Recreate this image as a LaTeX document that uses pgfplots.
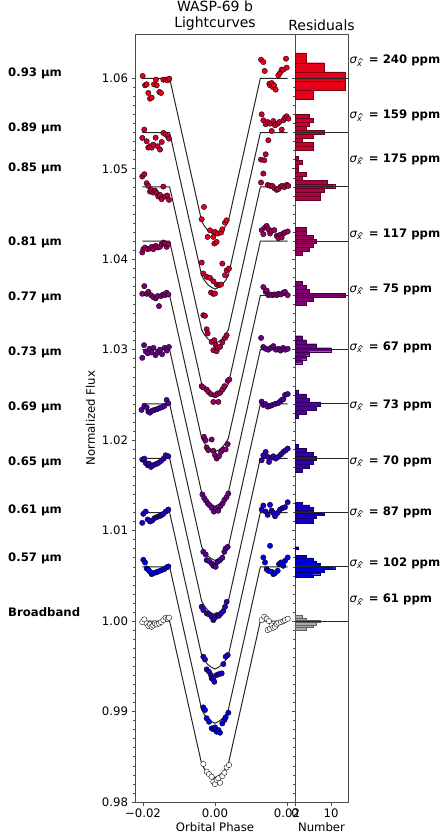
\documentclass[border=0pt]{standalone}
\usepackage{fontspec}
\setmainfont{DejaVu Sans}
\usepackage{pgfplots}
\pgfplotsset{compat=1.18}
\definecolor{c57}{RGB}{0,0,220}
\definecolor{c61}{RGB}{26,0,198}
\definecolor{c65}{RGB}{51,0,177}
\definecolor{c69}{RGB}{77,0,155}
\definecolor{c73}{RGB}{102,0,133}
\definecolor{c77}{RGB}{128,0,112}
\definecolor{c81}{RGB}{153,0,90}
\definecolor{c85}{RGB}{179,0,68}
\definecolor{c89}{RGB}{204,0,47}
\definecolor{c93}{RGB}{230,0,25}
\definecolor{cbb}{RGB}{170,170,170}
\newcommand{\fs}{\fontsize{11.7bp}{13bp}\selectfont}
\newcommand{\sig}{{\itshape σ}\raisebox{-0.45ex}{\fontsize{8bp}{9bp}\selectfont\itshape x\kern-0.52em\raisebox{0.35ex}{\^{}}\kern0.1em}}
\pgfplotsset{
  pts/.style={only marks, mark=*, mark size=2.7bp, mark options={fill=#1, draw=black, line width=0.35bp}},
  hist/.style={xbar interval, fill=#1, draw=#1!55!black, line width=0.3bp},
  mline/.style={black!85, line width=1bp},
  common/.style={scale only axis, height=768bp, ymin=0.98, ymax=1.0649,
    ytick={0.98,0.99,1.00,1.01,1.02,1.03,1.04,1.05,1.06},
    minor y tick num=9, tick align=outside, xtick pos=bottom, ytick pos=left,
    major tick length=3.5bp, minor tick length=2bp,
    tick style={black!70, line width=0.6bp},
    axis line style={black!70, line width=0.8bp},
    tick label style={font=\fs}, label style={font=\fs},
    xlabel style={yshift=2.5bp},
    scaled x ticks=false, scaled y ticks=false,
    title style={font=\fontsize{14bp}{15.5bp}\selectfont, align=center, at={(0.5,1)}, anchor=south, yshift=-4bp, inner sep=1.5bp},
    /pgf/number format/assume math mode=true, clip=false}
}
\newcommand{\modelcurve}[6]{\addplot[mline] coordinates {(-0.0202,#1) (-0.0126,#1) (-0.0037,#2) (-0.0030,#3) (-0.0020,#4) (-0.0010,#5) (0,#6) (0.0010,#5) (0.0020,#4) (0.0030,#3) (0.0037,#2) (0.0126,#1) (0.0202,#1)};}
\begin{document}
\begin{tikzpicture}
\path[use as bounding box] (0,0) rectangle (440bp,-835bp);
\begin{axis}[common, at={(135bp,-802bp)}, anchor=south west, width=160bp,
  xmin=-0.02222, xmax=0.02222, xtick={-0.02,0,0.02}, xticklabels={−0.02,0.00,0.02},
  yticklabels={0.98,0.99,1.00,1.01,1.02,1.03,1.04,1.05,1.06},
  xlabel={Orbital Phase}, ylabel={Normalized Flux}, title={WASP-69 b\\Lightcurves}]
\modelcurve{1.060}{1.0442}{1.0437}{1.0432}{1.0429}{1.0427}
\modelcurve{1.054}{1.0382}{1.0377}{1.0372}{1.0369}{1.0367}
\modelcurve{1.048}{1.0322}{1.0317}{1.0312}{1.0309}{1.0307}
\modelcurve{1.042}{1.0262}{1.0257}{1.0252}{1.0249}{1.0247}
\modelcurve{1.036}{1.0202}{1.0197}{1.0192}{1.0189}{1.0187}
\modelcurve{1.030}{1.0142}{1.0137}{1.0132}{1.0129}{1.0127}
\modelcurve{1.024}{1.0082}{1.0077}{1.0072}{1.0069}{1.0067}
\modelcurve{1.018}{1.0022}{1.0017}{1.0012}{1.0009}{1.0007}
\modelcurve{1.012}{0.9962}{0.9957}{0.9952}{0.9949}{0.9947}
\modelcurve{1.006}{0.9902}{0.9897}{0.9892}{0.9889}{0.9887}
\modelcurve{1.000}{0.9842}{0.9837}{0.9832}{0.9829}{0.9827}
% 0.93
\addplot[pts=c93] coordinates {(-0.02009,1.06026) (-0.01944,1.05923) (-0.01898,1.05934) (-0.01852,1.05838) (-0.01806,1.05775) (-0.01759,1.05786) (-0.01694,1.05934) (-0.01639,1.05985) (-0.0162,1.05923) (-0.01546,1.05849) (-0.015,1.05838) (-0.01435,1.05985) (-0.01361,1.05985) (-0.01315,1.05978) (-0.01269,1.05996)
(-0.0037,1.04442) (-0.00306,1.04578) (-0.00204,1.04247) (-0.00139,1.0432) (-0.00046,1.04247) (-0.00019,1.04173) (0,1.04302) (0.00046,1.04191) (0.00074,1.04284) (0.00167,1.04295) (0.00204,1.04331) (0.00278,1.04405) (0.00324,1.04431)
(0.01278,1.06206) (0.01343,1.0618) (0.0138,1.06081) (0.0151,1.05941) (0.01528,1.05923) (0.01574,1.05948) (0.01602,1.05904) (0.01639,1.05923) (0.01685,1.05875) (0.01759,1.06033) (0.01806,1.06059) (0.01852,1.06096) (0.01898,1.06096) (0.01972,1.06217) (0.01991,1.06118)};
% 0.89
\addplot[pts=c89] coordinates {(-0.02019,1.05341) (-0.01963,1.05433) (-0.01898,1.05304) (-0.01852,1.05234) (-0.01806,1.05249) (-0.01759,1.05234) (-0.01713,1.05267) (-0.01648,1.05344) (-0.01593,1.05249) (-0.01528,1.05212) (-0.01481,1.05296) (-0.01435,1.05396) (-0.0137,1.05381) (-0.01315,1.05359) (-0.01278,1.05333)
(-0.0037,1.03963) (-0.00324,1.03842) (-0.00231,1.03805) (-0.00139,1.03794) (-0.00111,1.03632) (-0.00046,1.03757) (-0.00046,1.03617) (0,1.03621) (0.00046,1.0372) (0.00111,1.03713) (0.00167,1.0372) (0.00204,1.03952) (0.00278,1.03823) (0.00324,1.03878) (0.00389,1.03897)
(0.01296,1.05602) (0.01343,1.05536) (0.01407,1.05492) (0.01463,1.05517) (0.01481,1.05315) (0.01528,1.05499) (0.01574,1.05418) (0.0162,1.05528) (0.01667,1.05481) (0.01741,1.05499) (0.01787,1.05517) (0.01852,1.05433) (0.01898,1.05536) (0.01944,1.05565) (0.01991,1.0558) (0.02037,1.05554)};
% 0.85
\addplot[pts=c85] coordinates {(-0.0202,1.04914) (-0.01963,1.0494) (-0.01898,1.04841) (-0.01852,1.04811) (-0.01806,1.04748) (-0.01778,1.04767) (-0.01713,1.04737) (-0.01667,1.04759) (-0.0162,1.0473) (-0.01574,1.04693) (-0.01528,1.04712) (-0.01481,1.04664) (-0.01435,1.04803) (-0.01389,1.04693) (-0.01324,1.04704) (-0.01278,1.04656)
(-0.00324,1.03381) (-0.00278,1.03374) (-0.00231,1.03226) (-0.00204,1.03179) (-0.00093,1.03086) (-0.00046,1.02994) (-0.00019,1.03105) (0.00019,1.0305) (0.00046,1.02983) (0.00074,1.0302) (0.00139,1.03031) (0.00204,1.0308) (0.00278,1.0313) (0.00324,1.0316)
(0.01278,1.04848) (0.01278,1.05101) (0.0137,1.05094) (0.01407,1.0516) (0.01343,1.04947) (0.01463,1.04822) (0.01528,1.04811) (0.01593,1.04811) (0.01648,1.04786) (0.01713,1.04767) (0.01759,1.04775) (0.01824,1.04803) (0.0187,1.04811) (0.01926,1.04797) (0.01991,1.04822) (0.02037,1.04811)};
% 0.81
\addplot[pts=c81] coordinates {(-0.0202,1.04075) (-0.01991,1.04112) (-0.01944,1.0413) (-0.0187,1.04112) (-0.01806,1.04119) (-0.01759,1.04137) (-0.01713,1.04112) (-0.01648,1.04148) (-0.01593,1.0413) (-0.01528,1.04137) (-0.01481,1.04167) (-0.01435,1.04185) (-0.01389,1.04174) (-0.01343,1.04137) (-0.01296,1.04167)
(-0.0037,1.02597) (-0.00324,1.02582) (-0.00231,1.0256) (-0.00185,1.02534) (-0.00111,1.02508) (-0.00046,1.02423) (0,1.02497) (0.00074,1.02516) (0.00093,1.02423) (0.00139,1.02523) (0.00204,1.0256) (0.0026,1.02597) (0.00352,1.02655) (0.00398,1.02671)
(0.01296,1.04322) (0.01343,1.04277) (0.01389,1.04351) (0.01435,1.04369) (0.01481,1.04333) (0.01528,1.04285) (0.01574,1.04314) (0.01648,1.04322) (0.01713,1.04259) (0.01759,1.04233) (0.01806,1.0427) (0.01852,1.04241) (0.01898,1.04285) (0.01944,1.04296) (0.02019,1.04307)};
% 0.77
\addplot[pts=c77] coordinates {(-0.0202,1.03618) (-0.01963,1.03703) (-0.01898,1.03618) (-0.01852,1.0364) (-0.01778,1.03603) (-0.01713,1.03581) (-0.01648,1.03567) (-0.01593,1.03593) (-0.01556,1.03482) (-0.015,1.03593) (-0.01435,1.03611) (-0.01389,1.03603) (-0.01343,1.0363) (-0.01296,1.03611)
(-0.00306,1.02037) (-0.0026,1.02) (-0.00231,1.01919) (-0.00185,1.01889) (-0.00093,1.02007) (-0.00046,1.01882) (0,1.01834) (0.00046,1.01797) (0.00111,1.01823) (0.00167,1.01871) (0.00231,1.01897) (0.00296,1.01897) (0.00352,1.01956)
(0.01343,1.03692) (0.01407,1.0364) (0.01435,1.03655) (0.01481,1.03603) (0.01528,1.03611) (0.01593,1.03603) (0.01648,1.03611) (0.01713,1.03603) (0.01759,1.03618) (0.01833,1.03611) (0.01898,1.0363) (0.01944,1.0364) (0.02019,1.03603)};
% 0.73
\addplot[pts=c73] coordinates {(-0.0202,1.0291) (-0.0197,1.0305) (-0.0192,1.0298) (-0.0187,1.0296) (-0.0182,1.0301) (-0.0176,1.0297) (-0.0171,1.0302) (-0.0165,1.0294) (-0.0159,1.0297) (-0.0153,1.0300) (-0.0147,1.0295) (-0.0140,1.0302) (-0.0134,1.0299) (-0.0128,1.0303)
(-0.0035,1.0140) (-0.0030,1.0136) (-0.0025,1.0133) (-0.0020,1.0130) (-0.0015,1.0128) (-0.0009,1.0125) (-0.0003,1.0121) (0.0003,1.0124) (0.0009,1.0122) (0.0015,1.0127) (0.0021,1.0130) (0.0026,1.0134) (0.0032,1.0137) (0.0037,1.0141)
(0.0128,1.0313) (0.0134,1.0303) (0.0141,1.0301) (0.0148,1.0300) (0.0155,1.0302) (0.0162,1.0304) (0.0169,1.0300) (0.0176,1.0301) (0.0182,1.0299) (0.0189,1.0302) (0.0195,1.0300) (0.0202,1.0301)};
% 0.69
\addplot[pts=c69] coordinates {(-0.0204,1.02334) (-0.01963,1.02378) (-0.01898,1.02363) (-0.01852,1.02315) (-0.01806,1.02304) (-0.0174,1.02326) (-0.01685,1.02334) (-0.0162,1.02341) (-0.01556,1.02352) (-0.01481,1.02363) (-0.01407,1.02378) (-0.01343,1.02444) (-0.01296,1.02407)
(-0.00324,1.00766) (-0.0026,1.00737) (-0.00231,1.00674) (-0.00167,1.00663) (-0.00093,1.00637) (-0.00046,1.00611) (0,1.00619) (0.00019,1.006) (0.00074,1.00655) (0.00139,1.00674) (0.00204,1.007) (0.0026,1.00766) (0.00296,1.00803) (0.00352,1.0082)
(0.01296,1.02426) (0.01343,1.02389) (0.01407,1.024) (0.01463,1.0237) (0.01528,1.02378) (0.01593,1.02389) (0.01667,1.024) (0.01741,1.02407) (0.01806,1.02426) (0.01852,1.02444) (0.01898,1.02452) (0.01944,1.02499) (0.02019,1.0251)};
% 0.65
\addplot[pts=c65] coordinates {(-0.0202,1.01785) (-0.01963,1.01796) (-0.01926,1.01748) (-0.0187,1.01723) (-0.01833,1.01741) (-0.01778,1.01704) (-0.01713,1.01723) (-0.01648,1.01734) (-0.01574,1.01748) (-0.015,1.0177) (-0.01426,1.01796) (-0.0137,1.01833) (-0.01296,1.01822)
(-0.0037,1.00158) (-0.00324,1.00122) (-0.00231,1.00085) (-0.00167,1.00074) (-0.00093,1.00048) (-0.00046,1.00011) (0,1.00037) (0.00046,1.00066) (0.00111,1.00059) (0.00167,1.00085) (0.00231,1.00111) (0.00278,1.00158) (0.00324,1.00213)
(0.01296,1.01778) (0.01343,1.01833) (0.01407,1.0187) (0.01463,1.01815) (0.015,1.01759) (0.01574,1.01807) (0.0162,1.01822) (0.01685,1.01796) (0.01759,1.01815) (0.01833,1.01844) (0.01898,1.0187) (0.01963,1.01888) (0.02019,1.01907)};
% 0.61
\addplot[pts=c61] coordinates {(-0.0202,1.01086) (-0.01991,1.01185) (-0.01926,1.01211) (-0.0187,1.01123) (-0.01806,1.01101) (-0.0174,1.01112) (-0.01685,1.01137) (-0.0162,1.01148) (-0.01556,1.01159) (-0.015,1.01167) (-0.01435,1.01185) (-0.0137,1.01211) (-0.01296,1.01233)
(-0.00324,0.99606) (-0.00278,0.99576) (-0.00231,0.99466) (-0.00167,0.9944) (-0.00111,0.99403) (-0.00093,0.99367) (-0.00046,0.99356) (-0.00019,0.99329) (0.00046,0.99403) (0.00111,0.99414) (0.00185,0.99422) (0.00231,0.99525) (0.00296,0.99606) (0.00352,0.99624)
(0.01296,1.01233) (0.01343,1.01277) (0.01407,1.01211) (0.01463,1.01174) (0.01528,1.01285) (0.01574,1.01222) (0.0162,1.01196) (0.01667,1.01159) (0.01741,1.01196) (0.01806,1.01233) (0.0187,1.01248) (0.01944,1.01259) (0.02019,1.01314)};
% 0.57
\addplot[pts=c57] coordinates {(-0.01991,1.00677) (-0.01944,1.00648) (-0.01898,1.00582) (-0.01852,1.00567) (-0.01806,1.00545) (-0.01759,1.00519) (-0.01713,1.0053) (-0.01648,1.00537) (-0.01593,1.00545) (-0.01528,1.00556) (-0.01463,1.00567) (-0.01407,1.00574) (-0.01343,1.00593) (-0.01296,1.00604)
(-0.00324,0.99046) (-0.00278,0.99017) (-0.00231,0.98925) (-0.00167,0.98887) (-0.00093,0.98814) (-0.00046,0.98803) (0,0.98825) (0.00046,0.98777) (0.00093,0.98796) (0.00139,0.98766) (0.00204,0.98869) (0.0026,0.98906) (0.00296,0.98936) (0.0037,0.98987)
(0.01343,1.00703) (0.01389,1.00648) (0.01435,1.00574) (0.01481,1.00556) (0.01528,1.00832) (0.01574,1.00545) (0.0162,1.00519) (0.01667,1.0053) (0.01741,1.00556) (0.01778,1.0063) (0.01833,1.00648) (0.01898,1.00611) (0.01944,1.00666) (0.02019,1.00703)};
% Broadband
\addplot[pts=white] coordinates {(-0.0202,0.99989) (-0.01963,1.00018) (-0.01898,0.99974) (-0.01852,0.99945) (-0.01806,0.99963) (-0.01759,0.99937) (-0.01713,0.99952) (-0.01667,0.99974) (-0.0162,0.99963) (-0.01556,0.99974) (-0.015,0.99989) (-0.01435,1.00011) (-0.0137,1.00037) (-0.01315,1.00026) (-0.01278,1.00037)
(-0.00324,0.9842) (-0.00231,0.98335) (-0.00167,0.98309) (-0.00093,0.9828) (-0.00046,0.98224) (0,0.98199) (0.00046,0.98243) (0.00093,0.98262) (0.00139,0.98213) (0.00204,0.98287) (0.0026,0.98324) (0.00324,0.98383) (0.00389,0.98409)
(0.01296,1.00011) (0.0137,1.00048) (0.01435,1.00026) (0.01463,0.99901) (0.015,1.0) (0.01528,0.99915) (0.01574,0.99952) (0.0162,0.99926) (0.01667,0.99937) (0.01713,0.99963) (0.01759,0.99982) (0.01833,0.99989) (0.01898,1.0) (0.01944,1.00011) (0.02019,1.00026)};
% wavelength labels
\node[anchor=west, inner sep=0, font=\fs\bfseries] at (axis cs:-0.0575,1.06055) {0.93 µm};
\node[anchor=west, inner sep=0, font=\fs\bfseries] at (axis cs:-0.0575,1.05448) {0.89 µm};
\node[anchor=west, inner sep=0, font=\fs\bfseries] at (axis cs:-0.0575,1.05006) {0.85 µm};
\node[anchor=west, inner sep=0, font=\fs\bfseries] at (axis cs:-0.0575,1.04188) {0.81 µm};
\node[anchor=west, inner sep=0, font=\fs\bfseries] at (axis cs:-0.0575,1.0358) {0.77 µm};
\node[anchor=west, inner sep=0, font=\fs\bfseries] at (axis cs:-0.0575,1.02972) {0.73 µm};
\node[anchor=west, inner sep=0, font=\fs\bfseries] at (axis cs:-0.0575,1.02365) {0.69 µm};
\node[anchor=west, inner sep=0, font=\fs\bfseries] at (axis cs:-0.0575,1.01757) {0.65 µm};
\node[anchor=west, inner sep=0, font=\fs\bfseries] at (axis cs:-0.0575,1.01227) {0.61 µm};
\node[anchor=west, inner sep=0, font=\fs\bfseries] at (axis cs:-0.0575,1.00696) {0.57 µm};
\node[anchor=west, inner sep=0, font=\fs\bfseries] at (axis cs:-0.0575,1.00099) {Broadband};
\end{axis}
\begin{axis}[common, at={(295bp,-802bp)}, anchor=south west, width=53bp,
  xmin=0, xmax=14.7, xtick={0,10}, yticklabels={},
  xlabel={Number}, title={Residuals}]
\addplot[hist=c93] coordinates {(5,1.05768) (14,1.05867) (14,1.05967) (8,1.06070) (3,1.06173) (0,1.06280)};
\addplot[hist=c89] coordinates {(5,1.05204) (5,1.05249) (2,1.05293) (5,1.05337) (8,1.05381) (3,1.05425) (4,1.0547) (5,1.05514) (4,1.05558) (0,1.05602)};
\addplot[hist=c85] coordinates {(7,1.04652) (7,1.04696) (8,1.0474) (11,1.04785) (9,1.04829) (2,1.04873) (3,1.04917) (1,1.04961) (1,1.05006) (2,1.0505) (1,1.05094) (0,1.05138)};
\addplot[hist=c81] coordinates {(2,1.04045) (4,1.0409) (5,1.04134) (6,1.04178) (5,1.04222) (3,1.04266) (3,1.04311) (0,1.04355)};
\addplot[hist=c77] coordinates {(3,1.0349) (5,1.03534) (14,1.03578) (4,1.03622) (3,1.03666) (2,1.03711) (0,1.03755)};
\addplot[hist=c73] coordinates {(2,1.02845) (3,1.0289) (4,1.02934) (10,1.02978) (6,1.03022) (3,1.03066) (2,1.03111) (0,1.03155)};
\addplot[hist=c69] coordinates {(1,1.02245) (3,1.0229) (6,1.02334) (7,1.02378) (4,1.02422) (3,1.02466) (1,1.02511) (0,1.02555)};
\addplot[hist=c65] coordinates {(2,1.01645) (4,1.0169) (5,1.01734) (6,1.01778) (5,1.01822) (3,1.01866) (1,1.01911) (0,1.01955)};
\addplot[hist=c61] coordinates {(5,1.010785) (5,1.011083) (6,1.01137) (8,1.011669) (5,1.011967) (5,1.012254) (4,1.012552) (2,1.01284) (0,1.013138)};
\addplot[hist=c57] coordinates {(5,1.00482) (7,1.00513) (8,1.00544) (11,1.00575) (7,1.00606) (6,1.00636) (5,1.00667) (3,1.00698) (0,1.00729) (0,1.0076) (1,1.00791) (0,1.00822)};
\addplot[hist=cbb] coordinates {(3,0.99904) (5,0.9993) (6,0.99957) (7,0.99983) (3,1.0001) (2,1.00036) (0,1.00063)};
\addplot[mline] coordinates {(0,1.060) (14.7,1.060)};
\addplot[mline] coordinates {(0,1.054) (14.7,1.054)};
\addplot[mline] coordinates {(0,1.048) (14.7,1.048)};
\addplot[mline] coordinates {(0,1.042) (14.7,1.042)};
\addplot[mline] coordinates {(0,1.036) (14.7,1.036)};
\addplot[mline] coordinates {(0,1.030) (14.7,1.030)};
\addplot[mline] coordinates {(0,1.024) (14.7,1.024)};
\addplot[mline] coordinates {(0,1.018) (14.7,1.018)};
\addplot[mline] coordinates {(0,1.012) (14.7,1.012)};
\addplot[mline] coordinates {(0,1.006) (14.7,1.006)};
\addplot[mline] coordinates {(0,1.000) (14.7,1.000)};
\node[anchor=west, inner sep=0, xshift=1.5bp, font=\fs] at (axis cs:14.7,1.06199) {\sig\ \textbf{= 240 ppm}};
\node[anchor=west, inner sep=0, xshift=1.5bp, font=\fs] at (axis cs:14.7,1.05591) {\sig\ \textbf{= 159 ppm}};
\node[anchor=west, inner sep=0, xshift=1.5bp, font=\fs] at (axis cs:14.7,1.05105) {\sig\ \textbf{= 175 ppm}};
\node[anchor=west, inner sep=0, xshift=1.5bp, font=\fs] at (axis cs:14.7,1.04276) {\sig\ \textbf{= 117 ppm}};
\node[anchor=west, inner sep=0, xshift=1.5bp, font=\fs] at (axis cs:14.7,1.03669) {\sig\ \textbf{= 75 ppm}};
\node[anchor=west, inner sep=0, xshift=1.5bp, font=\fs] at (axis cs:14.7,1.03028) {\sig\ \textbf{= 67 ppm}};
\node[anchor=west, inner sep=0, xshift=1.5bp, font=\fs] at (axis cs:14.7,1.02387) {\sig\ \textbf{= 73 ppm}};
\node[anchor=west, inner sep=0, xshift=1.5bp, font=\fs] at (axis cs:14.7,1.01768) {\sig\ \textbf{= 70 ppm}};
\node[anchor=west, inner sep=0, xshift=1.5bp, font=\fs] at (axis cs:14.7,1.01204) {\sig\ \textbf{= 87 ppm}};
\node[anchor=west, inner sep=0, xshift=1.5bp, font=\fs] at (axis cs:14.7,1.00641) {\sig\ \textbf{= 102 ppm}};
\node[anchor=west, inner sep=0, xshift=1.5bp, font=\fs] at (axis cs:14.7,1.00232) {\sig\ \textbf{= 61 ppm}};
\end{axis}
\end{tikzpicture}
\end{document}
